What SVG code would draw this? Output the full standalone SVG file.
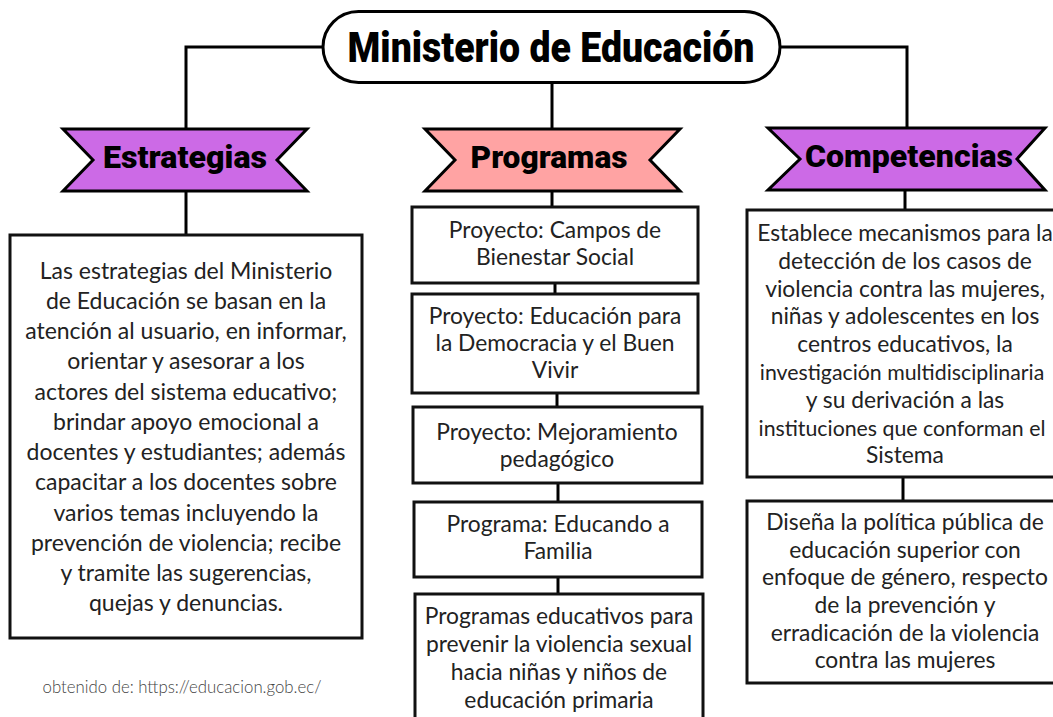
<svg xmlns="http://www.w3.org/2000/svg" width="1053" height="717" viewBox="0 0 1053 717">
<style>
.ln{fill:none;stroke:#000;stroke-width:3}
.box{fill:#fff;stroke:#111;stroke-width:3}
.ban{stroke:#000;stroke-width:3;stroke-linejoin:miter}
.t{font-family:Lato,"Open Sans",sans-serif;font-size:23px;fill:#222;text-anchor:middle}
.s{font-family:Lato,"Open Sans",sans-serif;font-size:22.8px;fill:#222;text-anchor:middle}
.s2{font-family:Lato,"Open Sans",sans-serif;font-size:21.3px;fill:#222;text-anchor:middle}
.h{font-family:Roboto,"Liberation Sans",sans-serif;font-weight:900;fill:#000;text-anchor:middle}
</style>
<rect width="1053" height="717" fill="#fff"/>
<g id="connectors">
<path class="ln" d="M186,129 V47 H323"/>
<path class="ln" d="M780,47 H907 V129"/>
<path class="ln" d="M552,82 V129"/>
<path class="ln" d="M186,191 V236"/>
<path class="ln" d="M552,191 V207"/>
<path class="ln" d="M555,283 V294"/>
<path class="ln" d="M557,393 V407"/>
<path class="ln" d="M558,483 V502"/>
<path class="ln" d="M558,577 V594"/>
<path class="ln" d="M905,190 V210"/>
<path class="ln" d="M903,477 V501"/>
</g>
<g id="title">
<rect x="323" y="11.5" width="457" height="71" rx="35.5" fill="#fff" stroke="#000" stroke-width="3"/>
<text class="h" x="551" y="62" font-size="42" textLength="407" lengthAdjust="spacingAndGlyphs">Ministerio de Educación</text>
</g>
<g id="estrategias">
<path class="ban" fill="#cc6ae6" d="M63,129 L307,129 L277,160 L307,191 L63,191 L93,160 Z"/>
<text class="h" x="185" y="168" font-size="31" textLength="164" lengthAdjust="spacingAndGlyphs">Estrategias</text>
</g>
<g id="programas">
<path class="ban" fill="#ffa3a3" d="M425,129 L680,129 L650,160 L680,191 L425,191 L455,160 Z"/>
<text class="h" x="549" y="168" font-size="31" textLength="157" lengthAdjust="spacingAndGlyphs">Programas</text>
</g>
<g id="competencias">
<path class="ban" fill="#cc6ae6" d="M768,128 L1045,128 L1017,159 L1045,190 L768,190 L800,159 Z"/>
<text class="h" x="909" y="167" font-size="31" textLength="208" lengthAdjust="spacingAndGlyphs">Competencias</text>
</g>
<g id="estrategias-texto">
<rect class="box" x="10" y="235" width="352" height="403"/>
<text class="t" x="186" y="279">Las estrategias del Ministerio</text>
<text class="t" x="186" y="309">de Educación se basan en la</text>
<text class="t" x="186" y="339">atención al usuario, en informar,</text>
<text class="t" x="186" y="369">orientar y asesorar a los</text>
<text class="t" x="186" y="400">actores del sistema educativo;</text>
<text class="t" x="186" y="430">brindar apoyo emocional a</text>
<text class="t" x="186" y="460">docentes y estudiantes; además</text>
<text class="t" x="186" y="490">capacitar a los docentes sobre</text>
<text class="t" x="186" y="521">varios temas incluyendo la</text>
<text class="t" x="186" y="551">prevención de violencia; recibe</text>
<text class="t" x="186" y="581">y tramite las sugerencias,</text>
<text class="t" x="186" y="611">quejas y denuncias.</text>
</g>
<g id="fuente">
<text x="182" y="693" font-family="Lato,'Open Sans',sans-serif" font-weight="300" font-size="16.8" fill="#444" text-anchor="middle">obtenido de: https://educacion.gob.ec/</text>
</g>
<g id="p1">
<rect class="box" x="412" y="207" width="286" height="76"/>
<text class="s" x="555" y="238">Proyecto: Campos de</text>
<text class="s" x="555" y="265">Bienestar Social</text>
</g>
<g id="p2">
<rect class="box" x="412" y="294" width="286" height="99"/>
<text class="s" x="555" y="324">Proyecto: Educación para</text>
<text class="s" x="555" y="351">la Democracia y el Buen</text>
<text class="s" x="555" y="378">Vivir</text>
</g>
<g id="p3">
<rect class="box" x="413" y="407" width="289" height="76"/>
<text class="s" x="557" y="440">Proyecto: Mejoramiento</text>
<text class="s" x="557" y="467">pedagógico</text>
</g>
<g id="p4">
<rect class="box" x="414" y="502" width="288" height="75"/>
<text class="s" x="558" y="532">Programa: Educando a</text>
<text class="s" x="558" y="559">Familia</text>
</g>
<g id="p5">
<rect class="box" x="415" y="594" width="288" height="140"/>
<text class="s" x="559" y="624">Programas educativos para</text>
<text class="s" x="559" y="652">prevenir la violencia sexual</text>
<text class="s" x="559" y="680">hacia niñas y niños de</text>
<text class="s" x="559" y="708">educación primaria</text>
</g>
<g id="c1">
<rect class="box" x="747" y="210" width="320" height="267"/>
<text class="s" x="905" y="241">Establece mecanismos para la</text>
<text class="s" x="905" y="269">detección de los casos de</text>
<text class="s" x="905" y="297">violencia contra las mujeres,</text>
<text class="s" x="905" y="324">niñas y adolescentes en los</text>
<text class="s" x="905" y="352">centros educativos, la</text>
<text class="s2" x="902" y="380">investigación multidisciplinaria</text>
<text class="s" x="905" y="408">y su derivación a las</text>
<text class="s2" x="902" y="436">instituciones que conforman el</text>
<text class="s" x="905" y="463">Sistema</text>
</g>
<g id="c2">
<rect class="box" x="747" y="501" width="320" height="182"/>
<text class="s" x="905" y="530">Diseña la política pública de</text>
<text class="s" x="905" y="558">educación superior con</text>
<text class="s" x="905" y="585">enfoque de género, respecto</text>
<text class="s" x="905" y="613">de la prevención y</text>
<text class="s" x="905" y="641">erradicación de la violencia</text>
<text class="s" x="905" y="668">contra las mujeres</text>
</g>
</svg>
